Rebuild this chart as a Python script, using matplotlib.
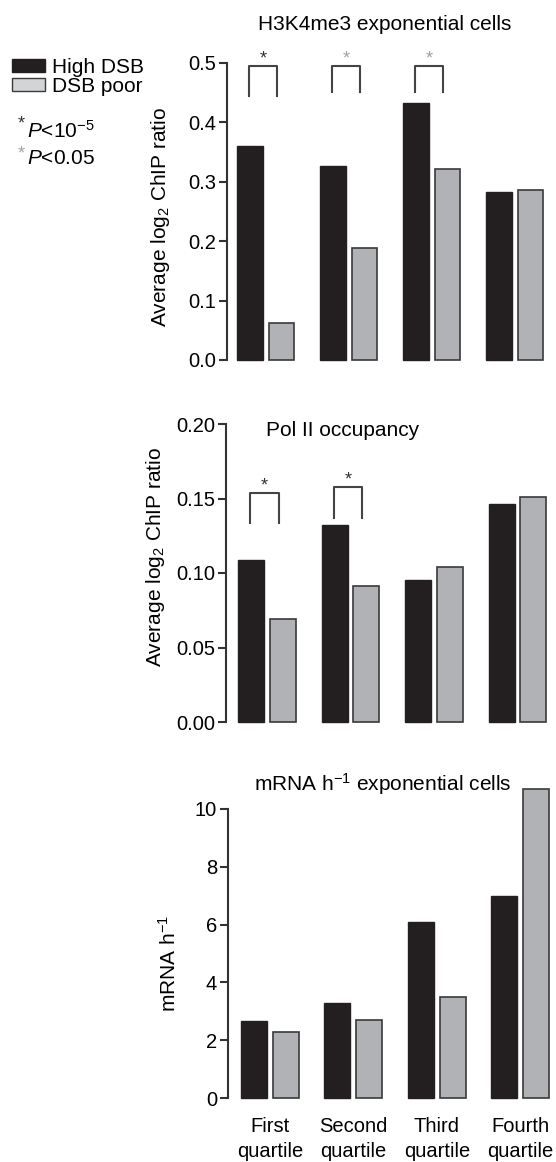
import numpy as np
import matplotlib
matplotlib.use("Agg")
import matplotlib.pyplot as plt
from matplotlib.patches import Patch

plt.rcParams['font.family'] = ['Liberation Sans', 'DejaVu Sans']
plt.rcParams['mathtext.fontset'] = 'custom'
plt.rcParams['mathtext.rm'] = 'Liberation Sans'
plt.rcParams['mathtext.it'] = 'Liberation Sans:italic'

# Data
quartiles = ["First\nquartile", "Second\nquartile", "Third\nquartile", "Fourth\nquartile"]
h3k4_high = [0.361, 0.327, 0.433, 0.282]
h3k4_poor = [0.063, 0.189, 0.321, 0.286]
pol2_high = [0.109, 0.132, 0.095, 0.146]
pol2_poor = [0.069, 0.091, 0.104, 0.151]
mrna_high = [2.65, 3.28, 6.10, 6.99]
mrna_poor = [2.27, 2.71, 3.51, 10.68]

# significance brackets: (group, top, leg bottom, star colour)
h3k4_sig = [(0, 0.495, 0.445, '#333333'), (1, 0.495, 0.452, '#a0a0a0'), (2, 0.495, 0.452, '#a0a0a0')]
pol2_sig = [(0, 0.1537, 0.1336, '#333333'), (1, 0.1575, 0.137, '#333333')]

black = '#231f20'
grey = '#b1b2b5'
edge = '#3a3a3a'
FS = 15
TS = 14.5
W, H = 556, 1162

fig = plt.figure(figsize=(W / 100, H / 100), dpi=100)


def make_ax(left, right, top, bottom):
    return fig.add_axes([left / W, 1 - bottom / H, (right - left) / W, (bottom - top) / H])


def draw_panel(ax, high, poor, ylim, yticks, fmt, xl):
    x = np.arange(len(high))
    ax.bar(x - 0.19, high, width=0.31, color=black, edgecolor=black, linewidth=1, clip_on=False)
    ax.bar(x + 0.19, poor, width=0.31, color=grey, edgecolor=edge, linewidth=1.2, clip_on=False)
    ax.set_ylim(*ylim)
    ax.set_xlim(*xl)
    ax.set_yticks(yticks)
    ax.set_yticklabels([fmt.format(v) for v in yticks])
    for s in ['top', 'right', 'bottom']:
        ax.spines[s].set_visible(False)
    ax.spines['left'].set_color('#333333')
    ax.spines['left'].set_linewidth(1.5)
    ax.spines['left'].set_bounds(ylim[0], ylim[1])
    ax.tick_params(axis='y', length=6, width=1.5, color='#333333', labelsize=TS, pad=2)
    ax.tick_params(axis='x', length=0)
    ax.set_xticks([])


def draw_sig(ax, sig, dy):
    for g, top, leg, col in sig:
        x0, x1 = g - 0.2, g + 0.14
        ax.plot([x0, x0, x1, x1], [leg, top, top, leg], color='#444444', lw=1.5, clip_on=False)
        ax.text((x0 + x1) / 2, top + dy, '*', color=col, ha='center', va='center', fontsize=13)


# Panel 1
ax1 = make_ax(227, 550, 63, 360)
draw_panel(ax1, h3k4_high, h3k4_poor, (0, 0.5), [0.0, 0.1, 0.2, 0.3, 0.4, 0.5], '{:.1f}', (-0.467, 3.425))
draw_sig(ax1, h3k4_sig, 0.012)
ax1.set_ylabel('Average log$_2$ ChIP ratio', fontsize=FS)
ax1.yaxis.set_label_coords(-0.17, 0.48)
fig.text(385 / W, 1 - 24 / H, 'H3K4me3 exponential cells', ha='center', va='center', fontsize=FS)

# Panel 2
ax2 = make_ax(226, 550, 424, 722)
draw_panel(ax2, pol2_high, pol2_poor, (0, 0.2), [0.0, 0.05, 0.10, 0.15, 0.20], '{:.2f}', (-0.49, 3.39))
draw_sig(ax2, pol2_sig, 0.005)
ax2.set_ylabel('Average log$_2$ ChIP ratio', fontsize=FS)
ax2.yaxis.set_label_coords(-0.182, 0.554)
fig.text(343 / W, 1 - 430 / H, 'Pol II occupancy', ha='center', va='center', fontsize=FS)

# Panel 3
ax3 = make_ax(228, 552, 809, 1098)
draw_panel(ax3, mrna_high, mrna_poor, (0, 10), [0, 2, 4, 6, 8, 10], '{:d}', (-0.5, 3.38))
ax3.set_xticks(np.arange(4))
ax3.set_xticklabels(quartiles, fontsize=14.5, linespacing=1.4)
ax3.tick_params(axis='x', pad=14)
ax3.set_ylabel('mRNA h$^{-1}$', fontsize=FS)
ax3.yaxis.set_label_coords(-0.148, 0.467)
fig.text(383 / W, 1 - 784 / H, 'mRNA h$^{-1}$ exponential cells', ha='center', va='center', fontsize=FS)

# Legend
handles = [Patch(facecolor=black, edgecolor=black),
           Patch(facecolor='#d3d4d6', edgecolor=edge, linewidth=1)]
fig.legend(handles, ['High DSB', 'DSB poor'], loc='upper left', bbox_to_anchor=(12 / W, 1 - 58 / H),
           frameon=False, fontsize=FS, handlelength=1.6, handleheight=0.63,
           handletextpad=0.3, labelspacing=0.0, borderpad=0, borderaxespad=0)

fig.text(18 / W, 1 - 124 / H, '*', color='#333333', fontsize=13, ha='left', va='center')
fig.text(27 / W, 1 - 138 / H, r'$\it{P}$<10$^{-5}$', fontsize=FS, ha='left', va='baseline')
fig.text(18 / W, 1 - 154 / H, '*', color='#a0a0a0', fontsize=13, ha='left', va='center')
fig.text(27 / W, 1 - 164 / H, r'$\it{P}$<0.05', fontsize=FS, ha='left', va='baseline')

fig.savefig('out.png', dpi=100)
